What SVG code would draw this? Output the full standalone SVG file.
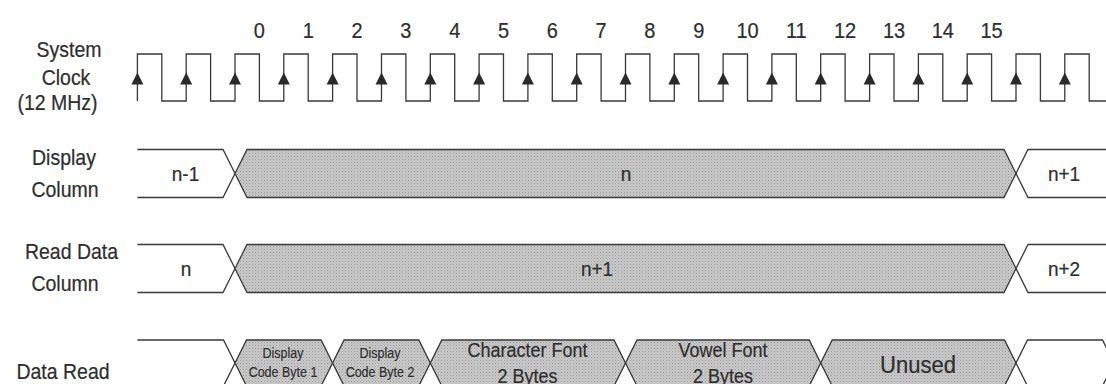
<svg xmlns="http://www.w3.org/2000/svg" xmlns:xlink="http://www.w3.org/1999/xlink" width="1106" height="384" viewBox="0 0 1106 384">
<style>
  .w { fill: none; stroke: #383838; stroke-width: 1.3; stroke-linejoin: miter; }
  .g { fill: url(#ht); stroke: #383838; stroke-width: 1.3; }
  .wf { fill: #ffffff; stroke: #383838; stroke-width: 1.3; }
  text { font-family: "Liberation Sans", Arial, sans-serif; fill: #2e2e2e; stroke: #2e2e2e; stroke-width: 0.2; text-anchor: middle; }
  .lb { font-size: 19.5px; }
  .num { font-size: 20px; }
  .bt { font-size: 19px; }
  .sm { font-size: 12.5px; stroke-width: 0.15; }
  .md { font-size: 18px; }
  .lg { font-size: 22px; }
</style>
<defs>
  <pattern id="ht" width="3" height="3" patternUnits="userSpaceOnUse">
    <rect width="3" height="3" fill="#c9c9c9"/>
    <rect width="1" height="1" fill="#9a9a9a"/>
    <rect x="1.5" y="1.5" width="1" height="1" fill="#aaaaaa"/>
  </pattern>
  <path id="arr" d="M0,-6 L-6,6 L6,6 Z" fill="#2a2a2a"/>
</defs>
<rect width="1106" height="384" fill="#ffffff"/>

<g id="labels">
  <text class="lb" transform="translate(69,57) scale(1,1.12)">System</text>
  <text class="lb" transform="translate(66,85) scale(1,1.12)">Clock</text>
  <text class="lb" transform="translate(57.5,110) scale(1,1.12)">(12 MHz)</text>
  <text class="lb" transform="translate(64,165) scale(1,1.12)">Display</text>
  <text class="lb" transform="translate(65,196.5) scale(1,1.12)">Column</text>
  <text class="lb" transform="translate(71.5,259) scale(1,1.12)">Read Data</text>
  <text class="lb" transform="translate(65,291) scale(1,1.12)">Column</text>
  <text class="lb" transform="translate(63,379) scale(1,1.12)">Data Read</text>
</g>

<g id="clock">
  <g id="cycle-numbers">
    <text class="num" transform="translate(259.4,38.3) scale(1,1.1)">0</text>
    <text class="num" transform="translate(308.2,38.3) scale(1,1.1)">1</text>
    <text class="num" transform="translate(357.0,38.3) scale(1,1.1)">2</text>
    <text class="num" transform="translate(405.9,38.3) scale(1,1.1)">3</text>
    <text class="num" transform="translate(454.7,38.3) scale(1,1.1)">4</text>
    <text class="num" transform="translate(503.5,38.3) scale(1,1.1)">5</text>
    <text class="num" transform="translate(552.3,38.3) scale(1,1.1)">6</text>
    <text class="num" transform="translate(601.1,38.3) scale(1,1.1)">7</text>
    <text class="num" transform="translate(649.9,38.3) scale(1,1.1)">8</text>
    <text class="num" transform="translate(698.7,38.3) scale(1,1.1)">9</text>
    <text class="num" transform="translate(747.5,38.3) scale(1,1.1)">10</text>
    <text class="num" transform="translate(796.3,38.3) scale(1,1.1)">11</text>
    <text class="num" transform="translate(845.1,38.3) scale(1,1.1)">12</text>
    <text class="num" transform="translate(894.0,38.3) scale(1,1.1)">13</text>
    <text class="num" transform="translate(942.8,38.3) scale(1,1.1)">14</text>
    <text class="num" transform="translate(991.6,38.3) scale(1,1.1)">15</text>
  </g>
  <path class="w" d="M137.4,101 V54 H161.8 V101 H186.2 V54 H210.6 V101 H235.0 V54 H259.4 V101 H283.8 V54 H308.2 V101 H332.6 V54 H357.0 V101 H381.5 V54 H405.9 V101 H430.3 V54 H454.7 V101 H479.1 V54 H503.5 V101 H527.9 V54 H552.3 V101 H576.7 V54 H601.1 V101 H625.5 V54 H649.9 V101 H674.3 V54 H698.7 V101 H723.1 V54 H747.5 V101 H771.9 V54 H796.3 V101 H820.7 V54 H845.1 V101 H869.6 V54 H894.0 V101 H918.4 V54 H942.8 V101 H967.2 V54 H991.6 V101 H1016.0 V54 H1040.4 V101 H1064.8 V54 H1089.2 V101 H1106"/>
  <g id="edge-arrows">
    <use xlink:href="#arr" x="137.4" y="78.5"/>
    <use xlink:href="#arr" x="186.2" y="78.5"/>
    <use xlink:href="#arr" x="235.0" y="78.5"/>
    <use xlink:href="#arr" x="283.8" y="78.5"/>
    <use xlink:href="#arr" x="332.6" y="78.5"/>
    <use xlink:href="#arr" x="381.5" y="78.5"/>
    <use xlink:href="#arr" x="430.3" y="78.5"/>
    <use xlink:href="#arr" x="479.1" y="78.5"/>
    <use xlink:href="#arr" x="527.9" y="78.5"/>
    <use xlink:href="#arr" x="576.7" y="78.5"/>
    <use xlink:href="#arr" x="625.5" y="78.5"/>
    <use xlink:href="#arr" x="674.3" y="78.5"/>
    <use xlink:href="#arr" x="723.1" y="78.5"/>
    <use xlink:href="#arr" x="771.9" y="78.5"/>
    <use xlink:href="#arr" x="820.7" y="78.5"/>
    <use xlink:href="#arr" x="869.6" y="78.5"/>
    <use xlink:href="#arr" x="918.4" y="78.5"/>
    <use xlink:href="#arr" x="967.2" y="78.5"/>
    <use xlink:href="#arr" x="1016.0" y="78.5"/>
    <use xlink:href="#arr" x="1064.8" y="78.5"/>
  </g>
</g>

<g id="display-column">
  <path class="w" d="M137.4,149.5 H223 L235,173.5 L223,197.5 H137.4"/>
  <path class="g" d="M235,173.5 L247,149.5 H1004 L1016,173.5 L1004,197.5 H247 Z"/>
  <path class="w" d="M1106,149.5 H1028 L1016,173.5 L1028,197.5 H1106"/>
  <text class="bt" transform="translate(185.5,181) scale(1,1.1)">n-1</text>
  <text class="bt" transform="translate(626,181) scale(1,1.1)">n</text>
  <text class="bt" transform="translate(1064,181) scale(1,1.1)">n+1</text>
</g>

<g id="read-data-column">
  <path class="w" d="M137.4,244.5 H223 L235,268.5 L223,292.5 H137.4"/>
  <path class="g" d="M235,268.5 L247,244.5 H1004 L1016,268.5 L1004,292.5 H247 Z"/>
  <path class="w" d="M1106,244.5 H1028 L1016,268.5 L1028,292.5 H1106"/>
  <text class="bt" transform="translate(186,276) scale(1,1.1)">n</text>
  <text class="bt" transform="translate(597,276) scale(1,1.1)">n+1</text>
  <text class="bt" transform="translate(1064,276) scale(1,1.1)">n+2</text>
</g>

<g id="data-read">
  <path class="w" d="M137.4,340 H223.5 L235,363 L223.5,386 H137.4"/>
  <g id="dr-code1">
    <path class="g" d="M235,363 L246.5,340 H321.1 L332.6,363 L321.1,386 H246.5 Z"/>
    <text class="sm" transform="translate(283,358) scale(1,1.1)">Display</text>
    <text class="sm" transform="translate(283,377) scale(1,1.1)">Code Byte 1</text>
  </g>
  <g id="dr-code2">
    <path class="g" d="M332.6,363 L344.1,340 H418.8 L430.3,363 L418.8,386 H344.1 Z"/>
    <text class="sm" transform="translate(380,358) scale(1,1.1)">Display</text>
    <text class="sm" transform="translate(380,377) scale(1,1.1)">Code Byte 2</text>
  </g>
  <g id="dr-char">
    <path class="g" d="M430.3,363 L441.8,340 H614 L625.5,363 L614,386 H441.8 Z"/>
    <text class="md" transform="translate(527.5,357.3) scale(1,1.1)">Character Font</text>
    <text class="md" transform="translate(527.5,382.5) scale(1,1.1)">2 Bytes</text>
  </g>
  <g id="dr-vowel">
    <path class="g" d="M625.5,363 L637,340 H809.2 L820.7,363 L809.2,386 H637 Z"/>
    <text class="md" transform="translate(723,357.3) scale(1,1.1)">Vowel Font</text>
    <text class="md" transform="translate(723,382.5) scale(1,1.1)">2 Bytes</text>
  </g>
  <g id="dr-unused">
    <path class="g" d="M820.7,363 L832.2,340 H1004.5 L1016,363 L1004.5,386 H832.2 Z"/>
    <text class="lg" transform="translate(918,373.3) scale(1,1.1)">Unused</text>
  </g>
  <g id="dr-next">
    <path class="wf" d="M1016,363 L1027.5,340 H1102.5 L1114,363 L1102.5,386 H1027.5 Z"/>
  </g>
</g>
</svg>
